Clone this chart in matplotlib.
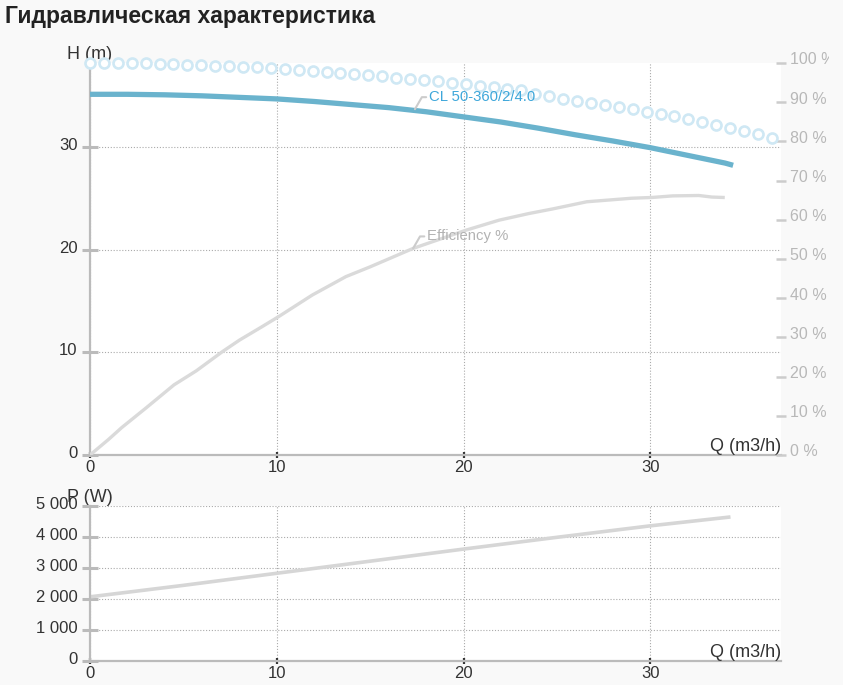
import numpy as np
import matplotlib
matplotlib.use("Agg")
import matplotlib.pyplot as plt
from matplotlib.ticker import FuncFormatter
from matplotlib.patches import Rectangle
from matplotlib.transforms import ScaledTranslation

plt.rcParams["font.family"] = ["Liberation Sans", "DejaVu Sans"]

# ── Data ──────────────────────────────────────────────────────────────────────
q_head = [0, 2, 4, 6, 8, 10, 12, 14, 16, 18, 20, 22, 24, 26, 28, 30, 32, 34, 34.3]
head = [35.15, 35.15, 35.1, 35.0, 34.85, 34.7, 34.45, 34.15, 33.85, 33.45,
        32.95, 32.45, 31.85, 31.2, 30.6, 29.95, 29.2, 28.45, 28.3]

q_eff = [0, 1.0, 1.7, 3.0, 4.5, 5.7, 7.1, 8.0, 9.2, 10.1, 11.9, 13.7, 15.0,
         17.3, 20.1, 21.9, 23.5, 24.8, 26.6, 29.0, 30.1, 31.2, 32.6, 33.3, 33.9]
eff = [0, 4.0, 7.0, 12.0, 17.9, 21.5, 26.4, 29.3, 32.7, 35.3, 40.8, 45.5, 48.0,
       52.7, 57.3, 59.9, 61.6, 62.8, 64.6, 65.5, 65.7, 66.1, 66.2, 65.8, 65.7]

# dotted circle series (right % axis)
q_circ = [0, 0.75, 1.49, 2.24, 2.98, 3.73, 4.47, 5.22, 5.96, 6.71,
          7.45, 8.2, 8.94, 9.69, 10.43, 11.18, 11.92, 12.67, 13.41, 14.16,
          14.9, 15.65, 16.39, 17.14, 17.88, 18.63, 19.37, 20.12, 20.86, 21.61,
          22.35, 23.1, 23.84, 24.59, 25.33, 26.08, 26.82, 27.57, 28.31, 29.06,
          29.8, 30.55, 31.29, 32.04, 32.78, 33.53, 34.27, 35.02, 35.76, 36.51]
pct_circ = [100.0, 100.0, 99.9, 99.9, 99.9, 99.8, 99.8, 99.6, 99.5, 99.3,
            99.2, 99.0, 98.9, 98.7, 98.5, 98.3, 98.0, 97.8, 97.5, 97.2,
            96.9, 96.6, 96.3, 96.0, 95.7, 95.4, 95.0, 94.6, 94.2, 93.8,
            93.4, 93.0, 92.2, 91.6, 90.9, 90.4, 89.9, 89.3, 88.8, 88.2,
            87.6, 87.1, 86.4, 85.7, 85.0, 84.2, 83.5, 82.6, 81.8, 80.9]

q_pow = [0, 5, 10, 15, 20, 25, 30, 34.2]
power = [2070, 2440, 2830, 3220, 3610, 3990, 4360, 4640]

x_ticks = [0, 10, 20, 30]
h_ticks = [0, 10, 20, 30]
pct_ticks = [0, 10, 20, 30, 40, 50, 60, 70, 80, 90, 100]
p_ticks = [0, 1000, 2000, 3000, 4000, 5000]

# ── Styling ───────────────────────────────────────────────────────────────────
BG = "#f9f9f9"
AXIS = "#bbbbbb"
TXT = "#333333"
GRID = dict(color="#aaaaaa", linestyle=(0, (1, 1.6)), linewidth=0.8)
H_MAX = 38.2

W, H = 843, 685
fig = plt.figure(figsize=(W / 100, H / 100), dpi=100, facecolor=BG)


def nudge_labels(labels, dy_px):
    # tick labels sit with their baseline a little below the tick mark
    for lbl in labels:
        lbl.set_va("baseline")
        lbl.set_transform(lbl.get_transform() +
                          ScaledTranslation(0, -dy_px / 100, fig.dpi_scale_trans))


def style_axes(ax):
    ax.set_facecolor("white")
    for s in ("top", "right"):
        ax.spines[s].set_visible(False)
    for s in ("left", "bottom"):
        ax.spines[s].set_color(AXIS)
        ax.spines[s].set_linewidth(1.6)
    ax.tick_params(axis="y", direction="inout", length=12, width=2.2,
                   color=AXIS, labelcolor=TXT, labelsize=12, pad=3)
    ax.tick_params(axis="x", direction="inout", length=5, width=1.6,
                   color="#333333", labelcolor=TXT, labelsize=12, pad=1)
    ax.set_xlim(0, 37)
    ax.set_xticks(x_ticks)
    ax.grid(True, **GRID)
    ax.set_axisbelow(True)


# ── Upper chart: head / efficiency ────────────────────────────────────────────
ax = fig.add_axes([90 / W, 1 - 455 / H, 691 / W, 392 / H])
style_axes(ax)
ax.set_ylim(0, H_MAX)
ax.set_yticks(h_ticks)
nudge_labels(ax.get_yticklabels(), 3)

ax2 = ax.twinx()
ax2.set_ylim(0, 100)
for s in ax2.spines.values():
    s.set_visible(False)
ax2.set_yticks(pct_ticks)
ax2.yaxis.set_major_formatter(FuncFormatter(lambda v, p: f"{v:.0f} %"))
ax2.tick_params(axis="y", direction="inout", length=7, width=1.8,
                color="#cccccc", labelcolor="#b8b8b8", labelsize=11.5, pad=3)
nudge_labels(ax2.get_yticklabels(), 1.5)

ax2.plot(q_circ, pct_circ, "o", ls="none", ms=7.2, mfc="white",
         mec="#cfe8f4", mew=1.9, clip_on=False, zorder=2)
ax2.plot(q_eff, eff, color="#dadada", lw=2.4, zorder=3)
ax2.plot(q_head, [h / H_MAX * 100 for h in head], color="#6ab3cd", lw=3.8,
         zorder=4)

lead = dict(arrowstyle="-", color="#cccccc", lw=1.5, shrinkA=0, shrinkB=0,
            relpos=(0, 0.5), connectionstyle="angle,angleA=0,angleB=60,rad=0")
ax2.annotate("CL 50-360/2/4.0", xy=(17.4, 33.7 / H_MAX * 100),
             xytext=(14, 12), textcoords="offset pixels", ha="left",
             va="center", fontsize=10.7, color="#3ea7da", arrowprops=lead,
             zorder=5)
ax2.annotate("Efficiency %", xy=(17.3, 52.7), xytext=(14, 12),
             textcoords="offset pixels", ha="left", va="center",
             fontsize=10.7, color="#b3b3b3", arrowprops=lead, zorder=5)

ax.text(0, 1.0, "H (m)", transform=ax.transAxes, ha="center", va="bottom",
        fontsize=13, color=TXT)
ax.text(1.0, 0.0, "Q (m3/h)", transform=ax.transAxes, ha="right",
        va="bottom", fontsize=13, color=TXT)

# ── Lower chart: power ────────────────────────────────────────────────────────
axp = fig.add_axes([90 / W, 1 - 661 / H, 691 / W, 155 / H])
style_axes(axp)
axp.set_ylim(0, 5000)
axp.set_yticks(p_ticks)
axp.yaxis.set_major_formatter(
    FuncFormatter(lambda v, p: f"{int(v):,}".replace(",", " ")))
nudge_labels(axp.get_yticklabels(), 3)
axp.plot(q_pow, power, color="#d6d6d6", lw=2.6)

axp.text(0, 1.0, "P (W)", transform=axp.transAxes, ha="center",
         va="bottom", fontsize=13, color=TXT, zorder=0)
axp.text(1.0, 0.0, "Q (m3/h)", transform=axp.transAxes, ha="right",
         va="bottom", fontsize=13, color=TXT)

# ── Title ─────────────────────────────────────────────────────────────────────
fig.text(5 / W, 1 - 16 / H, "Гидравлическая характеристика",
         fontsize=16.5, fontweight="bold", color="#222222", ha="left",
         va="center")

# container edge: the right-hand labels are cut off here
fig.add_artist(Rectangle((829 / W, 0), 14 / W, 1, transform=fig.transFigure,
                         facecolor=BG, edgecolor="none", zorder=10))

fig.savefig("out.png", dpi=100, facecolor=fig.get_facecolor())
